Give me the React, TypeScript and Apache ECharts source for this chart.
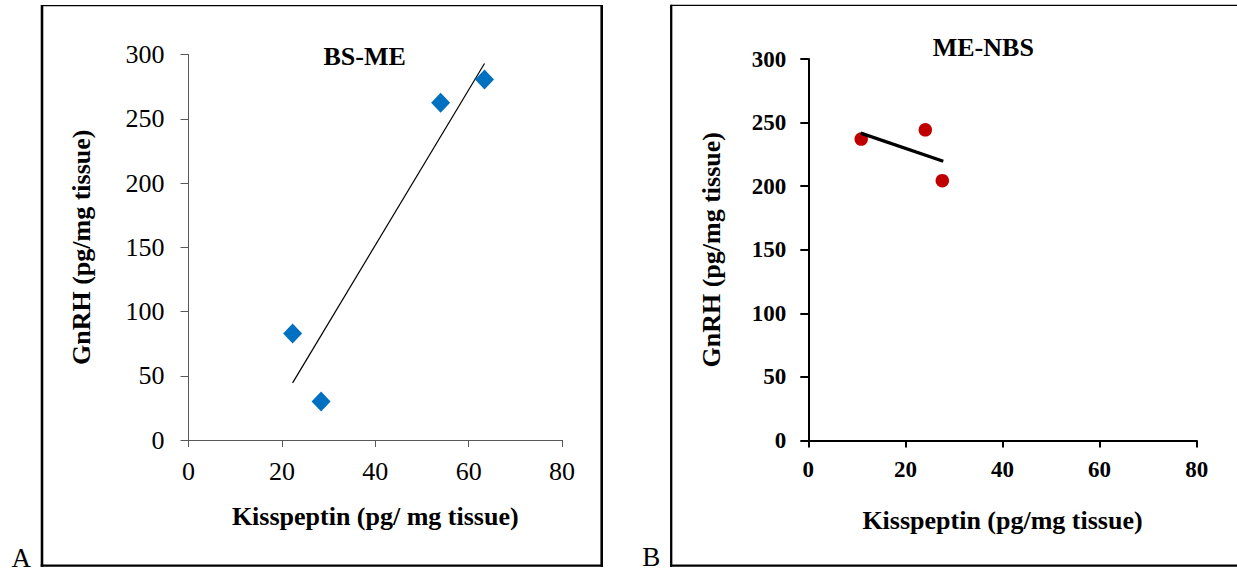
import React, { useEffect, useRef } from "react";
import * as echarts from "echarts";

// Panel A: BS-ME
const kissA = [22.3, 28.4, 54.0, 63.4];
const gnrhA = [82.8, 29.9, 262.4, 280.6];
const trendAX = [22.3, 63.4];
const trendAY = [44.5, 293.0];

// Panel B: ME-NBS
const kissB = [10.9, 24.1, 27.6];
const gnrhB = [237.0, 244.3, 204.3];
const trendBX = [10.8, 27.8];
const trendBY = [241.7, 219.6];

const xTicks = [0, 20, 40, 60, 80];
const yTicks = [0, 50, 100, 150, 200, 250, 300];

const titleA = "BS-ME";
const titleB = "ME-NBS";
const xNameA = "Kisspeptin (pg/ mg tissue)";
const xNameB = "Kisspeptin (pg/mg tissue)";
const yName = "GnRH (pg/mg tissue)";

const FONT = "'Liberation Serif', 'Times New Roman', serif";

const pairs = (xs: number[], ys: number[]) => xs.map((x, i) => [x, ys[i]]);

export default function App() {
  const ref = useRef<HTMLDivElement>(null);
  useEffect(() => {
    document.body.style.margin = "0";
    if (!ref.current) return;
    const chart = echarts.init(ref.current, null, { renderer: "svg" });

    const xAxisBase = (light: boolean) => ({
      type: "value",
      min: xTicks[0],
      max: xTicks[xTicks.length - 1],
      interval: xTicks[1] - xTicks[0],
      splitLine: { show: false },
      axisLine: { show: true, onZero: false, lineStyle: { color: light ? "#595959" : "#000", width: light ? 1 : 2 } },
      axisTick: { show: true, inside: false, length: 7, lineStyle: { color: light ? "#595959" : "#000", width: light ? 1 : 2 } },
      axisLabel: {
        fontFamily: FONT,
        fontSize: light ? 26 : 23,
        fontWeight: light ? "normal" : "bold",
        color: "#000",
        margin: light ? 18 : 17,
      },
      nameLocation: "middle",
      nameTextStyle: { fontFamily: FONT, fontSize: 26, fontWeight: "bold", color: "#000" },
    });
    const yAxisBase = (light: boolean) => ({
      type: "value",
      min: yTicks[0],
      max: yTicks[yTicks.length - 1],
      interval: yTicks[1] - yTicks[0],
      splitLine: { show: false },
      axisLine: { show: true, onZero: false, lineStyle: { color: light ? "#595959" : "#000", width: light ? 1 : 2 } },
      axisTick: { show: true, inside: false, length: 8, lineStyle: { color: light ? "#595959" : "#000", width: light ? 1 : 2 } },
      axisLabel: {
        fontFamily: FONT,
        fontSize: light ? 26 : 23,
        fontWeight: light ? "normal" : "bold",
        color: "#000",
        margin: light ? 24 : 22,
      },
      name: yName,
      nameLocation: "middle",
      nameRotate: 90,
      nameTextStyle: { fontFamily: FONT, fontSize: 26, fontWeight: "bold", color: "#000" },
    });

    const option: any = {
      animation: false,
      backgroundColor: "#fff",
      title: [
        {
          text: titleA,
          left: 364.7,
          top: 43,
          textAlign: "center",
          padding: 0,
          textStyle: { fontFamily: FONT, fontSize: 26, fontWeight: "bold", color: "#000" },
        },
        {
          text: titleB,
          left: 983.3,
          top: 34,
          textAlign: "center",
          padding: 0,
          textStyle: { fontFamily: FONT, fontSize: 26, fontWeight: "bold", color: "#000" },
        },
      ],
      grid: [
        { left: 188.5, top: 54.5, width: 373.5, height: 385.5, containLabel: false },
        { left: 808.3, top: 59, width: 388.4, height: 381.5, containLabel: false },
      ],
      xAxis: [
        { ...xAxisBase(true), gridIndex: 0, name: xNameA, nameGap: 63 },
        { ...xAxisBase(false), gridIndex: 1, name: xNameB, nameGap: 67 },
      ],
      yAxis: [
        { ...yAxisBase(true), gridIndex: 0, nameGap: 94 },
        { ...yAxisBase(false), gridIndex: 1, nameGap: 84 },
      ],
      series: [
        {
          type: "line",
          xAxisIndex: 0,
          yAxisIndex: 0,
          data: pairs(trendAX, trendAY),
          symbol: "none",
          lineStyle: { color: "#000", width: 1.2 },
          z: 2,
        },
        {
          type: "scatter",
          xAxisIndex: 0,
          yAxisIndex: 0,
          data: pairs(kissA, gnrhA),
          symbol: "diamond",
          symbolSize: [19, 20],
          itemStyle: { color: "#0070C0", opacity: 1 },
          z: 3,
        },
        {
          type: "line",
          xAxisIndex: 1,
          yAxisIndex: 1,
          data: pairs(trendBX, trendBY),
          symbol: "none",
          lineStyle: { color: "#000", width: 3.3 },
          z: 3,
        },
        {
          type: "scatter",
          xAxisIndex: 1,
          yAxisIndex: 1,
          data: pairs(kissB, gnrhB),
          symbol: "circle",
          symbolSize: 13.5,
          itemStyle: { color: "#C00000", opacity: 1 },
          z: 2,
        },
      ],
      graphic: [
        // Panel A frame
        { type: "line", shape: { x1: 42, y1: 5.7, x2: 601.7, y2: 5.7 }, style: { stroke: "#000", lineWidth: 1.3 } },
        { type: "line", shape: { x1: 42, y1: 5, x2: 42, y2: 566.8 }, style: { stroke: "#000", lineWidth: 2.6 } },
        { type: "line", shape: { x1: 601.7, y1: 5, x2: 601.7, y2: 566.8 }, style: { stroke: "#000", lineWidth: 2.6 } },
        { type: "line", shape: { x1: 40.7, y1: 565.7, x2: 603, y2: 565.7 }, style: { stroke: "#000", lineWidth: 2.3 } },
        // Panel B frame
        { type: "line", shape: { x1: 671, y1: 5.3, x2: 1237, y2: 5.3 }, style: { stroke: "#000", lineWidth: 1.3 } },
        { type: "line", shape: { x1: 671.2, y1: 4.7, x2: 671.2, y2: 566.7 }, style: { stroke: "#000", lineWidth: 2.3 } },
        { type: "line", shape: { x1: 670, y1: 565.6, x2: 1237, y2: 565.6 }, style: { stroke: "#000", lineWidth: 2.3 } },
        // Panel letters
        {
          type: "text",
          x: 11.5,
          y: 557.5,
          style: { text: "A", fontFamily: FONT, fontSize: 27, fill: "#000", align: "left", verticalAlign: "middle" },
        },
        {
          type: "text",
          x: 642.3,
          y: 557.3,
          style: { text: "B", fontFamily: FONT, fontSize: 27, fill: "#000", align: "left", verticalAlign: "middle" },
        },
      ],
    };
    chart.setOption(option);
    return () => chart.dispose();
  }, []);
  return <div ref={ref} style={{ width: 1237, height: 574 }} />;
}
